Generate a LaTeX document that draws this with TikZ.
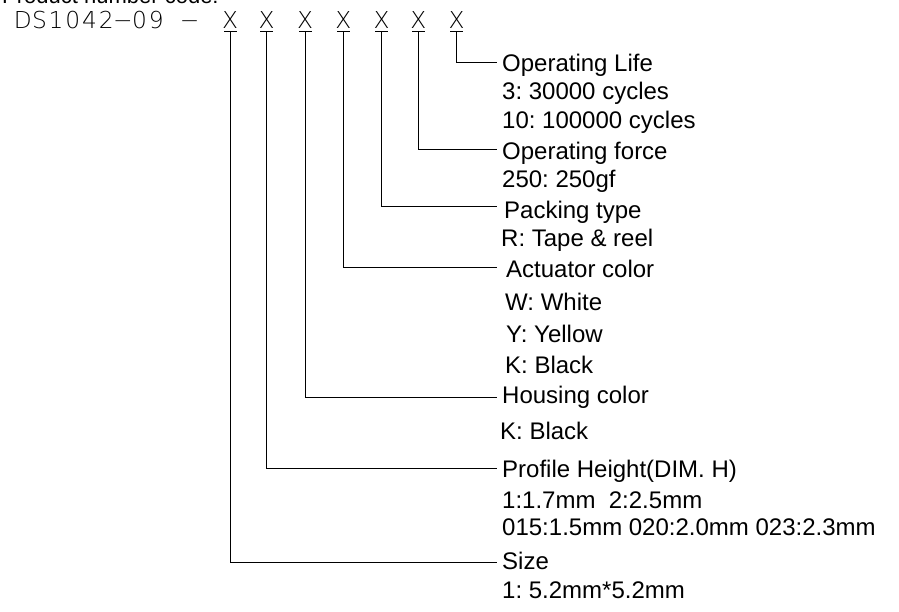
\documentclass[tikz,border=0pt]{standalone}
\usepackage{fontspec}
\setmainfont{Liberation Sans}
\newfontfamily\cadfont{DejaVu Sans ExtraLight}
\newcommand\mcell[1]{\makebox[16.7pt]{#1}}
\frenchspacing
\begin{document}
\begin{tikzpicture}[x=1pt,y=-1pt,
  lbl/.style={anchor=base west, inner sep=0pt, font=\fontsize{24}{28}\selectfont},
  toptxt/.style={anchor=base west, inner sep=0pt, font=\fontsize{22}{26}\selectfont},
  xmark/.style={anchor=base, inner sep=0pt, font=\cadfont\fontsize{23.3}{28}\selectfont},
  lead/.style={line width=1pt, draw=black, line cap=rect}]
\useasboundingbox (0,0) rectangle (899,612);

% partially visible heading at the top edge
\node[toptxt] (head) at (2,3.5) {Product number code:};

% code prefix
\node[xmark, anchor=base west] (code) at (14.2,29) {\mcell{D}\mcell{S}\mcell{1}\mcell{0}\mcell{4}\mcell{2}\mcell{−}\mcell{0}\mcell{9}\mcell{ }\mcell{−}};

% the X marks
\foreach \i/\xx in {1/230,2/266.7,3/305,4/343.3,5/381.7,6/418.3,7/456.7}{
  \node[xmark] (x\i) at (\xx,29) {X};
  \coordinate (u\i) at (\xx,32);
  \draw[lead] ([xshift=-6pt]u\i) -- ([xshift=6pt]u\i);
}

% leader end points
\coordinate (e7) at (496,63);
\coordinate (e6) at (496,150);
\coordinate (e5) at (496,207);
\coordinate (e4) at (496,268);
\coordinate (e3) at (496,397);
\coordinate (e2) at (496,468);
\coordinate (e1) at (496,562);

\foreach \i in {1,...,7}{
  \draw[lead] (u\i) |- (e\i);
}

% labels
\node[lbl] (t7) at (502,72) {Operating Life};
\node[lbl] (t7a) at (502,100) {3: 30000 cycles};
\node[lbl] (t7b) at (502,129) {10: 100000 cycles};

\node[lbl] (t6) at (502,160) {Operating force};
\node[lbl] (t6a) at (502,188) {250: 250gf};

\node[lbl] (t5) at (504,219) {Packing type};
\node[lbl] (t5a) at (501,247) {R: Tape \& reel};

\node[lbl] (t4) at (506,277) {Actuator color};
\node[lbl] (t4a) at (505,310) {W: White};
\node[lbl] (t4b) at (506,342) {Y: Yellow};
\node[lbl] (t4c) at (505,373) {K: Black};

\node[lbl] (t3) at (502,403) {Housing color};
\node[lbl] (t3a) at (500,439) {K: Black};

\node[lbl] (t2) at (502,477) {Profile Height(DIM. H)};
\node[lbl] (t2a) at (502,508) {1:1.7mm\ \ 2:2.5mm};
\node[lbl] (t2b) at (502,535) {015:1.5mm 020:2.0mm 023:2.3mm};

\node[lbl] (t1) at (502,569) {Size};
\node[lbl] (t1a) at (502,598) {1: 5.2mm*5.2mm};
\end{tikzpicture}
\end{document}
